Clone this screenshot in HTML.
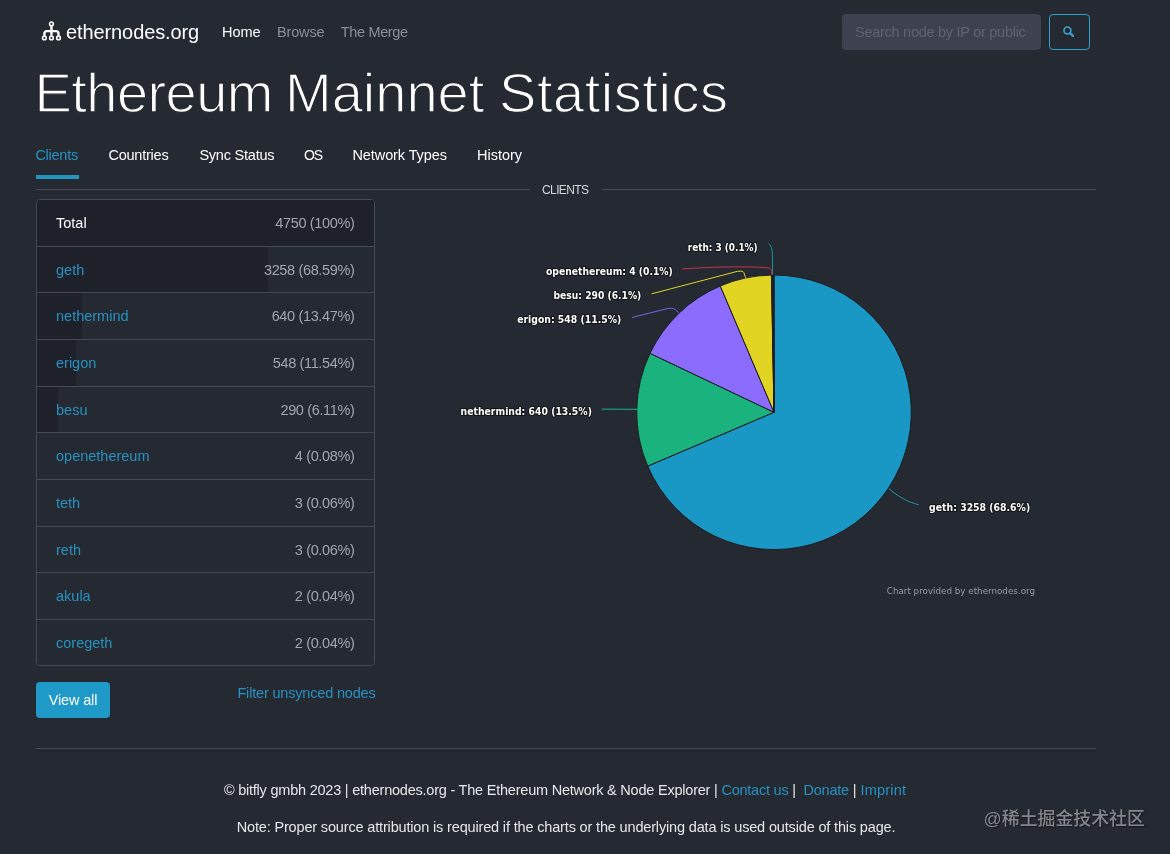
<!DOCTYPE html>
<html lang="en">
<head>
<meta charset="utf-8">
<title>Ethereum Mainnet Statistics - ethernodes.org</title>
<style>
*{box-sizing:border-box;margin:0;padding:0}
html,body{width:1170px;height:854px;overflow:hidden}
body{background:#242932;color:#fff;font-family:"Liberation Sans",sans-serif;font-size:14.5px;position:relative}
a{color:#2792c1;text-decoration:none}
.abs{position:absolute;white-space:nowrap}
/* navbar */
.brand{left:66px;top:20px;font-size:20px;line-height:24px;color:#fff;letter-spacing:-0.1px}
.logo{left:41px;top:21px;width:22px;height:22px}
.nav a{position:absolute;top:24px;font-size:14.5px;line-height:17px;color:#8b8e96}
.nav a.on{color:#fff}
.search{left:842px;top:14px;width:199px;letter-spacing:-0.27px;height:36px;background:#3d4150;border-radius:4px;color:#5f6371;font-size:14.5px;line-height:36px;padding-left:13px;overflow:hidden}
.sbtn{left:1049px;top:14px;width:41px;height:36px;border:1px solid #2f9dcb;border-radius:4px}
.sbtn svg{position:absolute;left:12.8px;top:10.9px;width:11.5px;height:11.5px}
h1{left:36px;top:58px;font-size:56px;line-height:70px;font-weight:400;color:#fff;width:700px;height:70px}
h1 span{position:absolute;top:0;-webkit-text-stroke:1.3px #242932}
/* tabs */
.tabs a{position:absolute;top:147px;font-size:14.5px;line-height:17px;color:#fff}
.tabs a.on{color:#2792c1}
.tabline{left:36px;top:175px;width:43px;height:4px;background:#2394bf}
.hr{height:1px;background:#454955}
.cap{left:542px;top:183px;letter-spacing:-0.6px;font-size:12px;line-height:14px;color:#d5d6d9}
/* table */
.tbl{left:36px;top:199px;width:339px;height:467px;border:1px solid #454955;border-radius:4px;overflow:hidden}
.row{position:relative;height:46.66px;border-top:1px solid #454955;background:#242932}
.row:first-child{border-top:0;height:45.7px}
.row .bar{position:absolute;left:0;top:0;bottom:0;background:#1e2129}
.row .n{position:absolute;left:19px;top:15px;line-height:17px;font-size:14.5px}
.row .v{position:absolute;right:19.5px;letter-spacing:-0.35px;top:15px;line-height:17px;font-size:14.5px;color:#a3a5ab}
.btn{left:36px;top:682px;width:74px;height:36px;background:#1f99c8;border-radius:4px;color:#fff;letter-spacing:-0.15px;text-align:center;line-height:36px;font-size:14.5px}
.filter{right:794.5px;letter-spacing:-0.18px;top:685px;line-height:17px;font-size:14.5px}
.foot{left:36px;width:1060px;text-align:center;font-size:14.5px;line-height:17px;color:#e6e7e9}
.wm{left:983.6px;top:806px;font-weight:500;font-family:"Liberation Sans","Noto Sans CJK SC",sans-serif;font-size:17.9px;line-height:26px;color:#85878d;text-shadow:1px 1px 1px #15171c}
svg text{font-family:"DejaVu Sans",sans-serif}
</style>
</head>
<body>
<svg class="abs" style="left:36px;top:16px;width:32px;height:30px" viewBox="36 16 32 30" fill="none" stroke="#fff">
<g stroke-width="1.55"><circle cx="51.45" cy="23.9" r="1.85"/><circle cx="44.4" cy="37.95" r="1.85"/><circle cx="51.45" cy="37.95" r="1.85"/><circle cx="58.5" cy="37.95" r="1.85"/></g>
<path stroke-width="2.4" d="M51.45 26V35.6M44.4 35.8V33.6a2.5 2.5 0 0 1 2.5-2.5H56a2.5 2.5 0 0 1 2.5 2.5V35.8"/>
</svg>
<div class="abs brand">ethernodes.org</div>
<div class="nav">
<a class="on" style="left:222px">Home</a>
<a style="left:277px;letter-spacing:-0.15px">Browse</a>
<a style="left:340.8px;letter-spacing:-0.35px">The Merge</a>
</div>
<div class="abs search">Search node by IP or public</div>
<div class="abs sbtn"><svg viewBox="0 0 13 13" fill="none" stroke="#3aa2d2" stroke-width="1.8"><circle cx="5" cy="5" r="3.9"/><path d="M8 8L11.8 11.8" stroke-width="2.6" stroke-linecap="round"/></svg></div>

<h1 class="abs"><span style="left:-1.5px;letter-spacing:-0.55px">Ethereum</span> <span style="left:249px;letter-spacing:0px">Mainnet</span> <span style="left:463px;letter-spacing:0.55px">Statistics</span></h1>

<div class="tabs">
<a class="on" style="left:35.4px;letter-spacing:-0.25px">Clients</a>
<a style="left:108.4px;letter-spacing:-0.22px">Countries</a>
<a style="left:199.4px;letter-spacing:-0.22px">Sync Status</a>
<a style="left:304px;letter-spacing:-1.1px;font-size:14px">OS</a>
<a style="left:352.5px;letter-spacing:-0.1px">Network Types</a>
<a style="left:477px">History</a>
</div>
<div class="abs tabline"></div>
<div class="abs hr" style="left:36px;top:189px;width:494px"></div>
<div class="abs cap">CLIENTS</div>
<div class="abs hr" style="left:602px;top:189px;width:494px"></div>

<div class="abs tbl">
<div class="row"><div class="bar" style="width:100%"></div><span class="n">Total</span><span class="v">4750 (100%)</span></div>
<div class="row"><div class="bar" style="width:68.59%"></div><a class="n">geth</a><span class="v">3258 (68.59%)</span></div>
<div class="row"><div class="bar" style="width:13.47%"></div><a class="n">nethermind</a><span class="v">640 (13.47%)</span></div>
<div class="row"><div class="bar" style="width:11.54%"></div><a class="n">erigon</a><span class="v">548 (11.54%)</span></div>
<div class="row"><div class="bar" style="width:6.11%"></div><a class="n">besu</a><span class="v">290 (6.11%)</span></div>
<div class="row"><a class="n">openethereum</a><span class="v">4 (0.08%)</span></div>
<div class="row"><a class="n">teth</a><span class="v">3 (0.06%)</span></div>
<div class="row"><a class="n">reth</a><span class="v">3 (0.06%)</span></div>
<div class="row"><a class="n">akula</a><span class="v">2 (0.04%)</span></div>
<div class="row"><a class="n">coregeth</a><span class="v">2 (0.04%)</span></div>
</div>
<div class="abs btn">View all</div>
<a class="abs filter">Filter unsynced nodes</a>

<!--CS-->
<svg class="abs" style="left:0;top:0" width="1170" height="854" viewBox="0 0 1170 854">
<g stroke="#1a1c22" stroke-width="1" stroke-linejoin="round">
<path d="M774 412.3L774.00 275.00A137.3 137.3 0 1 1 647.69 466.12Z" fill="#1a98c5"/>
<path d="M774 412.3L647.69 466.12A137.3 137.3 0 0 1 650.00 353.35Z" fill="#1ab37e"/>
<path d="M774 412.3L650.00 353.35A137.3 137.3 0 0 1 720.26 285.95Z" fill="#8c6cff"/>
<path d="M774 412.3L720.26 285.95A137.3 137.3 0 0 1 771.46 275.02Z" fill="#e1d423"/>
<path d="M774 412.3L771.46 275.02A137.3 137.3 0 0 1 772.18 275.01Z" fill="#dc3545"/>
<path d="M774 412.3L772.18 275.01A137.3 137.3 0 0 1 772.73 275.01Z" fill="#e83e8c"/>
<path d="M774 412.3L772.73 275.01A137.3 137.3 0 0 1 773.27 275.00Z" fill="#17a2b8"/>
<path d="M774 412.3L773.27 275.00A137.3 137.3 0 0 1 773.64 275.00Z" fill="#6c757d"/>
<path d="M774 412.3L773.64 275.00A137.3 137.3 0 0 1 774.00 275.00Z" fill="#fd7e14"/>
</g>
<g fill="none" stroke-width="1">
<path d="M772.6 275V262C772.6 250 771.5 245.5 768.6 243.6" stroke="#1a98a8"/>
<path d="M771.8 274.6V271.5Q771.8 268 767 267.6C740 266 705 267.2 681.9 269" stroke="#c8324a"/>
<path d="M745.8 278L743.8 272.6Q743.2 271 741 271.2L737.5 271.3L651.7 293.8" stroke="#e1d423"/>
<path d="M678.8 312.8L675.3 309.6Q674 308.4 671.5 308.3L668.5 308.3L632 317.5" stroke="#7d62e6"/>
<path d="M637 409.300L601.800 409.100" stroke="#1ab37e"/>
<path d="M888.8 488.5C897 495.500 906 501.500 918.700 504.800" stroke="#1a98a8"/>
</g>
<g font-size="11.3" font-weight="bold" fill="#fff" stroke="#101216" stroke-width="2" paint-order="stroke" stroke-linejoin="round">
<text x="687.8" y="251.3" textLength="69.8" lengthAdjust="spacingAndGlyphs">reth: 3 (0.1%)</text>
<text x="546" y="275" textLength="126.8" lengthAdjust="spacingAndGlyphs">openethereum: 4 (0.1%)</text>
<text x="553.5" y="298.9" textLength="87.8" lengthAdjust="spacingAndGlyphs">besu: 290 (6.1%)</text>
<text x="517.2" y="323" textLength="104" lengthAdjust="spacingAndGlyphs">erigon: 548 (11.5%)</text>
<text x="460.6" y="415" textLength="131.3" lengthAdjust="spacingAndGlyphs">nethermind: 640 (13.5%)</text>
<text x="929.1" y="511" textLength="101.1" lengthAdjust="spacingAndGlyphs">geth: 3258 (68.6%)</text>
</g>
<text x="886.8" y="594.3" textLength="148.2" lengthAdjust="spacingAndGlyphs" font-size="9" fill="#9a9ca3">Chart provided by ethernodes.org</text>
</svg>
<!--CE-->

<div class="abs hr" style="left:36px;top:748px;width:1060px"></div>
<div class="abs" style="left:36px;top:750px;width:1060px;height:2px;background:#21252d"></div>
<div class="abs foot" style="top:782px;left:35px;letter-spacing:-0.22px">© bitfly gmbh 2023 | ethernodes.org - The Ethereum Network &amp; Node Explorer | <a>Contact us</a> |&nbsp; <a>Donate</a> |&nbsp; <a style="letter-spacing:0.2px;margin-left:-3.5px">Imprint</a></div>
<div class="abs foot" style="top:819px;letter-spacing:-0.16px">Note: Proper source attribution is required if the charts or the underlying data is used outside of this page.</div>
<div class="abs wm">@稀土掘金技术社区</div>
</body>
</html>
